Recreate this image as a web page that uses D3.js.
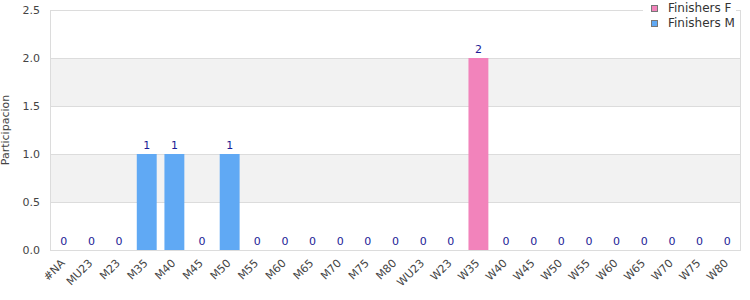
<!DOCTYPE html>
<html>
<head>
<meta charset="utf-8">
<script src="https://cdnjs.cloudflare.com/ajax/libs/d3/7.8.5/d3.min.js"></script>
<style>
  body { margin: 0; background: #fff; }
  svg { display: block; font-family: "DejaVu Sans", sans-serif; }
</style>
</head>
<body>
<div id="chart"></div>
<script>
// categories and series values
const categories = ['#NA', 'MU23', 'M23', 'M35', 'M40', 'M45', 'M50', 'M55', 'M60', 'M65', 'M70', 'M75', 'M80',
    'WU23', 'W23', 'W35', 'W40', 'W45', 'W50', 'W55', 'W60', 'W65', 'W70', 'W75', 'W80'];
const finishersF = [0, 0, 0, 0, 0, 0, 0, 0, 0, 0, 0, 0, 0, 0, 0, 2, 0, 0, 0, 0, 0, 0, 0, 0, 0];
const finishersM = [0, 0, 0, 1, 1, 0, 1, 0, 0, 0, 0, 0, 0, 0, 0, 0, 0, 0, 0, 0, 0, 0, 0, 0, 0];
const yTicks = [0, 0.5, 1.0, 1.5, 2.0, 2.5];
const seriesNames = ['Finishers F', 'Finishers M'];
const seriesColors = ['#f283bb', '#60a9f4'];

const width = 750, height = 300;
const margin = { top: 10, right: 9, bottom: 50, left: 50 };
const innerW = width - margin.left - margin.right;
const innerH = height - margin.top - margin.bottom;

const svg = d3.select('#chart').append('svg')
    .attr('width', width)
    .attr('height', height);

const g = svg.append('g').attr('transform', `translate(${margin.left},${margin.top})`);

const x = d3.scaleBand().domain(categories).range([0, innerW]).paddingInner(0.28).paddingOuter(0.14);
const y = d3.scaleLinear().domain([0, 2.5]).range([innerH, 0]);

// alternating background bands
for (let i = 0; i < yTicks.length - 1; i++) {
    if (i % 2 === 1) {
        g.append('rect')
            .attr('x', 0).attr('width', innerW)
            .attr('y', y(yTicks[i + 1]))
            .attr('height', y(yTicks[i]) - y(yTicks[i + 1]))
            .attr('fill', '#f2f2f2');
    }
}

// grid lines
g.selectAll('.grid').data(yTicks).enter().append('line')
    .attr('x1', 0).attr('x2', innerW)
    .attr('y1', d => Math.round(y(d)) + 0.5).attr('y2', d => Math.round(y(d)) + 0.5)
    .attr('stroke', '#dcdcdc');

// plot frame sides
g.append('line').attr('x1', 0.5).attr('x2', 0.5).attr('y1', 0).attr('y2', innerH).attr('stroke', '#dcdcdc');
g.append('line').attr('x1', innerW - 0.5).attr('x2', innerW - 0.5).attr('y1', 0).attr('y2', innerH).attr('stroke', '#dcdcdc');

// y axis
const yAxis = g.append('g').call(d3.axisLeft(y).tickValues(yTicks).tickFormat(d3.format('.1f')).tickSize(0).tickPadding(10));
yAxis.select('.domain').remove();
yAxis.selectAll('text').attr('font-size', 11).attr('fill', '#444').attr('font-family', '"DejaVu Sans", sans-serif');

svg.append('text')
    .attr('transform', `translate(9,${margin.top + innerH / 2}) rotate(-90)`)
    .attr('text-anchor', 'middle')
    .attr('font-size', 11)
    .attr('fill', '#444')
    .text('Participacion');

// x axis labels
const xAxis = g.append('g').attr('transform', `translate(0,${innerH})`)
    .call(d3.axisBottom(x).tickSize(0).tickPadding(0));
xAxis.select('.domain').remove();
xAxis.selectAll('text')
    .attr('font-size', 11).attr('fill', '#444').attr('font-family', '"DejaVu Sans", sans-serif')
    .attr('text-anchor', 'end')
    .attr('dy', '0.35em')
    .attr('transform', 'translate(-1,11) rotate(-45)');

// stacked bars
const rows = categories.map((c, i) => ({ cat: c, F: finishersF[i], M: finishersM[i] }));
const stack = d3.stack().keys(['F', 'M'])(rows);
const color = d3.scaleOrdinal().domain(['F', 'M']).range(seriesColors);

g.selectAll('.series').data(stack).enter().append('g')
    .attr('fill', d => color(d.key))
    .selectAll('rect').data(d => d).enter().append('rect')
    .attr('x', d => x(d.data.cat))
    .attr('width', x.bandwidth())
    .attr('y', d => y(d[1]))
    .attr('height', d => y(d[0]) - y(d[1]));

// totals above bars
g.selectAll('.total').data(rows).enter().append('text')
    .attr('x', d => x(d.cat) + x.bandwidth() / 2)
    .attr('y', d => y(d.F + d.M) - 5)
    .attr('text-anchor', 'middle')
    .attr('font-size', 11)
    .attr('fill', '#1c1c96')
    .text(d => d.F + d.M);

// legend
const legend = svg.append('g').attr('transform', 'translate(643,0)');
legend.append('rect').attr('x', 0).attr('y', 0).attr('width', 93).attr('height', 30).attr('fill', '#fff');
seriesNames.forEach((name, i) => {
    legend.append('rect')
        .attr('x', 8.5).attr('y', 5.5 + i * 15)
        .attr('width', 6).attr('height', 6)
        .attr('fill', seriesColors[i])
        .attr('stroke', '#777');
    legend.append('text')
        .attr('x', 25).attr('y', 12 + i * 15)
        .attr('font-size', 12)
        .attr('fill', '#333')
        .text(name);
});
</script>
</body>
</html>
